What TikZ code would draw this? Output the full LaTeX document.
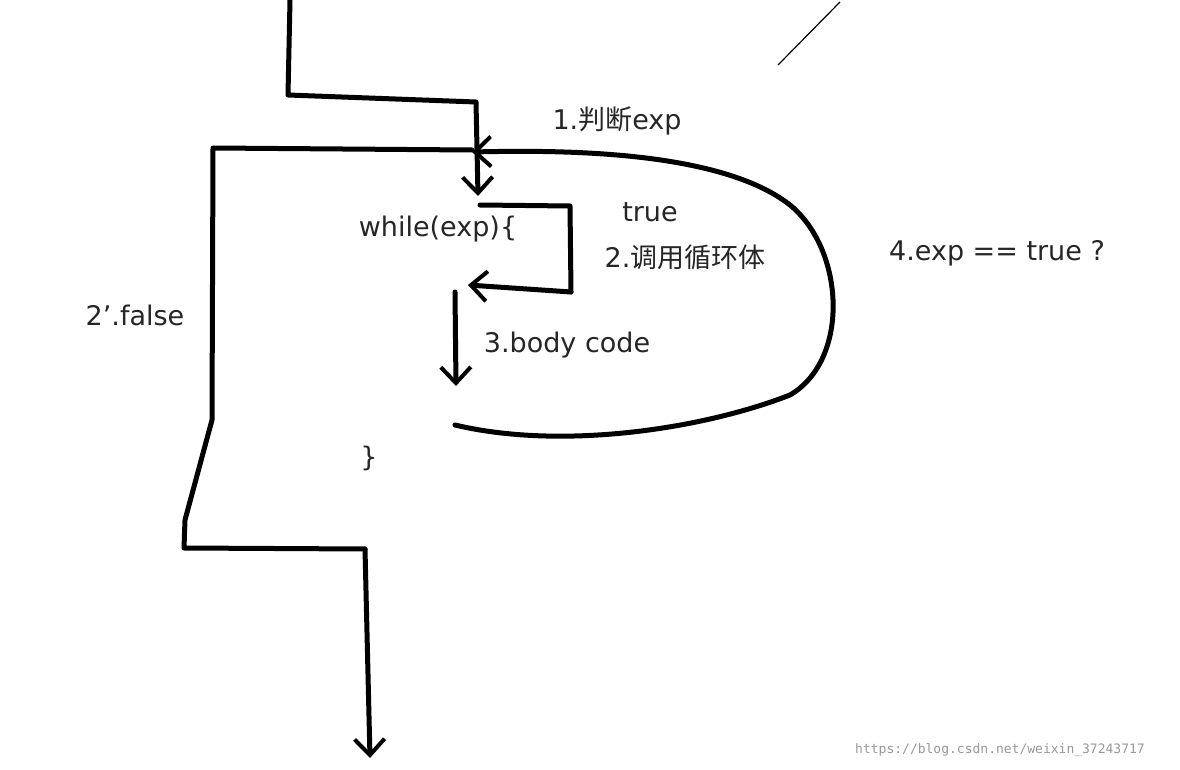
\documentclass[tikz,border=0pt]{standalone}
\usepackage{fontspec}
\setmainfont{DejaVu Sans}
\newfontfamily\cjk{Noto Sans CJK SC}
\setmonofont{DejaVu Sans Mono}
\usetikzlibrary{arrows.meta}
\tikzset{pen/.style={line width=5pt,line cap=round,line join=round},
lbl/.style={font=\fontsize{27}{31}\selectfont,text=black!85,inner sep=0pt},
tip/.style={-{Straight Barb[length=16pt,width=30pt,line width=4pt]}}}
\begin{document}
\begin{tikzpicture}[x=1pt,y=-1pt]
\useasboundingbox (0,0) rectangle (1180,770);
\fill[white] (0,0) rectangle (1180,770);
\draw[pen,tip] (290,0) -- (288,95) -- (476,102) -- (478,196);
\draw[pen,tip] (455,425) .. controls (560,450) and (700,430) .. (790,395)
  .. controls (850,360) and (845,250) .. (790,205)
  .. controls (720,150) and (560,150) .. (472,152);
\draw[pen] (472,150) -- (213,148) -- (212,420) -- (185,520) -- (184,548) -- (365,549);
\draw[pen,tip] (365,549) -- (370,758);
\draw[pen] (480,205) -- (570,206) -- (571,292);
\draw[pen,tip] (571,292) -- (468,285);
\draw[pen,tip] (455,292) -- (456,386);
\draw[line width=1.2pt] (778,65) -- (840,2);
\node[lbl] (t1) at (617,121) {1.{\cjk 判断}exp};
\node[lbl] (t2) at (650,212) {true};
\node[lbl] (t3) at (438,229) {while(exp)\{};
\node[lbl] (t4) at (685,257) {2.{\cjk 调用循环体}};
\node[lbl] (t5) at (997,253) {4.exp == true ?};
\node[lbl] (t6) at (135,315) {2'.false};
\node[lbl] (t7) at (567,345) {3.body code};
\node[lbl] (t8) at (369,458) {\}};
\node[font=\ttfamily\fontsize{13}{15}\selectfont,text=black!40,inner sep=0pt] (wm) at (1000,750) {https://blog.csdn.net/weixin\_37243717};
\end{tikzpicture}
\end{document}
